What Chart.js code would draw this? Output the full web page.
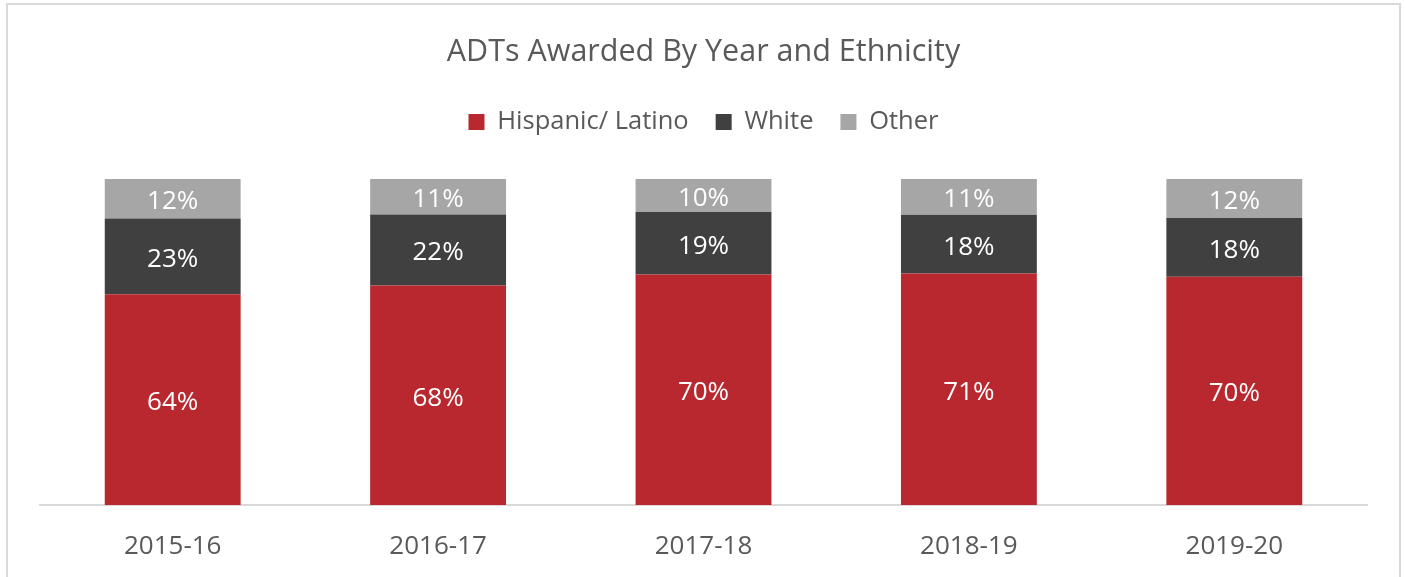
<!DOCTYPE html>
<html>
<head>
  <title>ADTs Awarded By Year and Ethnicity</title>
  <script src="https://cdn.jsdelivr.net/npm/chart.js"></script>
  <style>
    html, body { margin: 0; padding: 0; background: #fff; }
    #wrap { position: relative; width: 1405px; height: 577px; overflow: hidden; }
    #frame { position: absolute; left: 6px; top: 3px; width: 1395px; height: 620px;
             border: 2px solid #d9d9d9; box-sizing: border-box; pointer-events: none; }
    #chart-box { position: absolute; left: 0; top: 0; width: 1405px; height: 577px; }
  </style>
</head>
<body>
  <div id="wrap">
    <div id="chart-box"><canvas id="adt-chart"></canvas></div>
    <div id="frame"></div>
  </div>

  <script>
    var years = ["2015-16", "2016-17", "2017-18", "2018-19", "2019-20"];
    var hispanic = [64, 68, 70, 71, 70];
    var white = [23, 22, 19, 18, 18];
    var other = [12, 11, 10, 11, 12];

    var seriesNames = ["Hispanic/ Latino", "White", "Other"];
    var seriesColors = ["#b8282e", "#404040", "#a6a6a6"];
    var fontName = "'Open Sans', sans-serif";

    // bars are 100% stacked, labels keep the raw percentages
    var raw = [hispanic, white, other];
    var totals = years.map(function (y, i) { return hispanic[i] + white[i] + other[i]; });

    var datasets = raw.map(function (vals, s) {
      return {
        label: seriesNames[s],
        data: vals.map(function (v, i) { return v / totals[i] * 100; }),
        rawValues: vals,
        backgroundColor: seriesColors[s],
        borderWidth: 0,
        barPercentage: 0.512,
        categoryPercentage: 1
      };
    });

    var segmentLabels = {
      id: "segmentLabels",
      afterDatasetsDraw: function (chart) {
        var ctx = chart.ctx;
        ctx.save();
        ctx.fillStyle = "#ffffff";
        ctx.font = "26px " + fontName;
        ctx.textAlign = "center";
        ctx.textBaseline = "middle";
        chart.data.datasets.forEach(function (ds, di) {
          chart.getDatasetMeta(di).data.forEach(function (bar, i) {
            ctx.fillText(ds.rawValues[i] + "%", bar.x, (bar.y + bar.base) / 2 + 3);
          });
        });
        ctx.restore();
      }
    };

    // fixed legend block height so the bars start where they should
    var legendGap = {
      id: "legendGap",
      beforeInit: function (chart) {
        var fit = chart.legend.fit;
        chart.legend.fit = function () {
          fit.bind(chart.legend)();
          this.height = 96.75;
        };
      }
    };

    new Chart(document.getElementById("adt-chart").getContext("2d"), {
      type: "bar",
      data: { labels: years, datasets: datasets },
      plugins: [segmentLabels, legendGap],
      options: {
        responsive: true,
        maintainAspectRatio: false,
        animation: false,
        layout: { padding: { left: 40, right: 38, top: 0, bottom: 0 } },
        scales: {
          x: {
            stacked: true,
            grid: { drawOnChartArea: false, drawTicks: false },
            border: { display: true, color: "#d9d9d9", width: 2 },
            ticks: { color: "#595959", font: { family: fontName, size: 26 }, padding: 26 },
            afterFit: function (scale) { scale.height = 72; }
          },
          y: {
            stacked: true,
            display: false,
            min: 0,
            max: 100
          }
        },
        plugins: {
          tooltip: { enabled: false },
          title: {
            display: true,
            text: "ADTs Awarded By Year and Ethnicity",
            color: "#595959",
            font: { family: fontName, size: 30.5, weight: "normal" },
            padding: { top: 34, bottom: 11.6 }
          },
          legend: {
            position: "top",
            labels: {
              color: "#595959",
              font: { family: fontName, size: 25.5 },
              boxWidth: 16,
              boxHeight: 16,
              padding: 27
            }
          }
        }
      }
    });
  </script>
</body>
</html>
